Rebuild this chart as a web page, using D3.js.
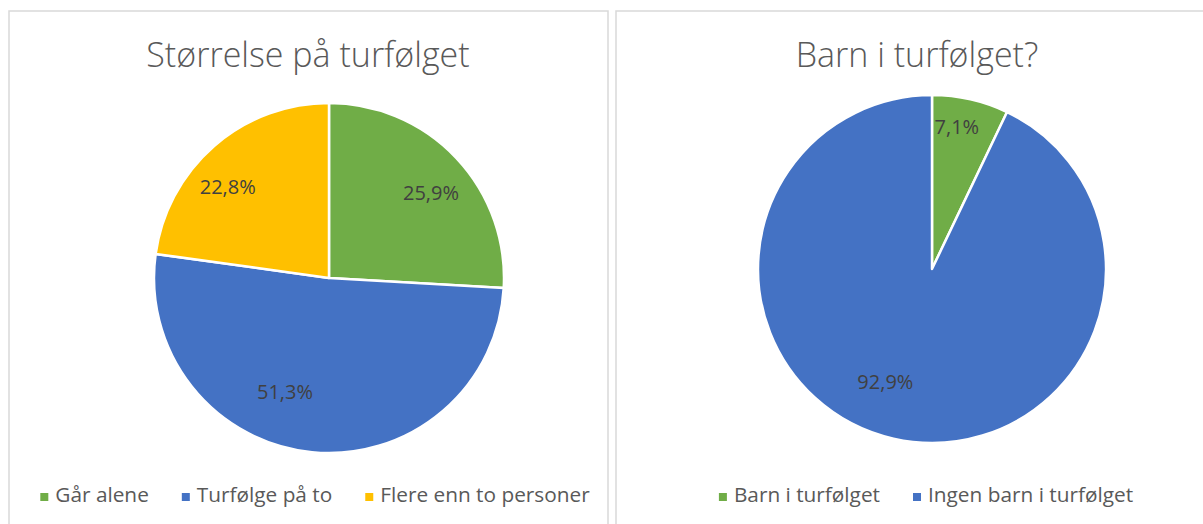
<!DOCTYPE html>
<html>
<head>
<meta charset="utf-8">
<script src="https://cdn.jsdelivr.net/npm/d3@7"></script>
<style>
  html,body{margin:0;padding:0;background:#fff}
  svg{display:block}
  text{font-family:"Open Sans","Noto Sans",sans-serif}
</style>
</head>
<body>
<svg id="chart" width="1203" height="524"></svg>
<script>
// data
const sizeTitle = 'Størrelse på turfølget'
const sizeCategories = ['Går alene', 'Turfølge på to', 'Flere enn to personer']
const sizeValues = [25.9, 51.3, 22.8]
const sizeColors = ['#70ad47', '#4472c4', '#ffc000']

const kidsTitle = 'Barn i turfølget?'
const kidsCategories = ['Barn i turfølget', 'Ingen barn i turfølget']
const kidsValues = [7.1, 92.9]
const kidsColors = ['#70ad47', '#4472c4']

const svg = d3.select('#chart')
const fmt = v => d3.format('.1f')(v).replace('.', ',') + '%'

function drawPanel(opt){
  const g = svg.append('g')
  g.append('rect').attr('x', opt.x).attr('y', opt.y).attr('width', opt.w).attr('height', opt.h)
    .attr('fill', '#fff').attr('stroke', '#d9d9d9').attr('stroke-width', 1.5)

  g.append('text').attr('x', opt.titleX).attr('y', opt.titleY).attr('text-anchor', 'middle')
    .attr('font-size', 34).attr('font-weight', 300).attr('fill', '#595959').text(opt.title)

  const color = d3.scaleOrdinal().domain(opt.categories).range(opt.colors)
  const pie = d3.pie().sort(null).value(d => d.value)
  const data = opt.categories.map((c, i) => ({cat: c, value: opt.values[i]}))
  const arcs = pie(data)
  const arc = d3.arc().innerRadius(0).outerRadius(opt.r)

  const pg = g.append('g').attr('transform', `translate(${opt.cx},${opt.cy})`)
  pg.selectAll('path').data(arcs).join('path')
    .attr('d', arc).attr('fill', d => color(d.data.cat))
    .attr('stroke', '#fff').attr('stroke-width', 2.5).attr('stroke-linejoin', 'round')
  // data labels sit inside the slices (Excel "best fit")
  pg.selectAll('text').data(arcs).join('text')
    .attr('transform', (d, i) => {
      const k = opt.labelK[i] * opt.r
      const a = (d.startAngle + d.endAngle) / 2 + opt.labelTurn[i]
      return `translate(${Math.sin(a) * k},${-Math.cos(a) * k})`
    })
    .attr('text-anchor', 'middle').attr('dy', '0.35em')
    .attr('font-size', 20).attr('fill', '#404040')
    .text(d => fmt(d.data.value))

  // legend, centred under the panel
  const lg = g.append('g')
  const items = lg.selectAll('g').data(opt.categories).join('g')
  items.append('rect').attr('width', 8).attr('height', 8).attr('y', -9).attr('fill', d => color(d))
  items.append('text').attr('x', 15)
    .attr('font-size', 20.8).attr('fill', '#595959').text(d => d)
  let xx = 0
  items.each(function(){
    const w = this.querySelector('text').getComputedTextLength() + 15
    d3.select(this).attr('transform', `translate(${xx},0)`)
    xx += w + 33
  })
  const total = xx - 33
  lg.attr('transform', `translate(${opt.legendX - total / 2},${opt.legendY})`)
}

drawPanel({
  x: 9, y: 11, w: 599, h: 530,
  title: sizeTitle, titleX: 308, titleY: 67,
  categories: sizeCategories, values: sizeValues, colors: sizeColors,
  cx: 329, cy: 278, r: 175,
  labelK: [0.76, 0.7, 0.78], labelTurn: [0.06, 0.27, -0.12],
  legendX: 315, legendY: 502
})

drawPanel({
  x: 616, y: 11, w: 620, h: 530,
  title: kidsTitle, titleX: 917, titleY: 67,
  categories: kidsCategories, values: kidsValues, colors: kidsColors,
  cx: 932, cy: 269, r: 174,
  labelK: [0.83, 0.7], labelTurn: [-0.05, 0.17],
  legendX: 926, legendY: 502
})
</script>
</body>
</html>
